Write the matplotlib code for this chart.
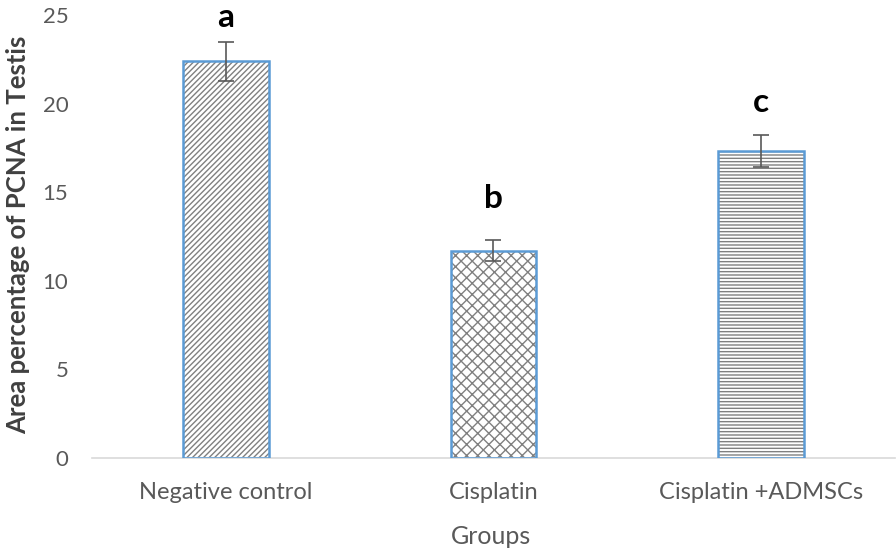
import matplotlib
matplotlib.use("Agg")
import matplotlib.pyplot as plt

categories = ["Negative control", "Cisplatin", "Cisplatin +ADMSCs"]
values = [22.4, 11.7, 17.3]
errors = [1.1, 0.6, 0.9]
letters = ["a", "b", "c"]
letter_y = [24.35, 14.1, 19.5]
hatches = ["//////", "xxx", "-----"]
yticks = [0, 5, 10, 15, 20, 25]

plt.rcParams['font.family'] = ['Lato', 'DejaVu Sans']
plt.rcParams['hatch.linewidth'] = 1.0

fig = plt.figure(figsize=(8.96, 5.55), dpi=100)
ax = fig.add_axes([92/896, (555-458)/555, (895-92)/896, (458-15)/555])

x = list(range(len(categories)))
w = 0.32
for i in x:
    ax.bar(i, values[i], width=w, color="white", edgecolor="#808080",
           hatch=hatches[i], linewidth=0, zorder=2)
    ax.bar(i, values[i], width=w, fill=False, edgecolor="#5B9BD5",
           linewidth=1.8, zorder=3)
ax.errorbar(x, values, yerr=errors, fmt="none", ecolor="#595959",
            elinewidth=1.2, capsize=6, capthick=1.2, zorder=4)
for i in x:
    ax.text(i, letter_y[i], letters[i], ha="center", va="baseline",
            fontsize=24, fontweight="bold", color="black", clip_on=False)

ax.set_xlim(-0.5, 2.5)
ax.set_ylim(0, 25)
ax.set_yticks(yticks)
ax.set_xticks(x)
ax.set_xticklabels(categories)
ax.tick_params(axis="x", length=0, labelsize=17, colors="#595959", pad=17)
ax.tick_params(axis="y", length=0, labelsize=16, colors="#595959", pad=17)
for s in ["top", "right", "left"]:
    ax.spines[s].set_visible(False)
ax.spines["bottom"].set_color("#d9d9d9")
ax.spines["bottom"].set_linewidth(1.2)
ax.set_xlabel("Groups", fontsize=18, color="#595959", labelpad=12)
ax.set_ylabel("Area percentage of PCNA in Testis", fontsize=18.5,
              fontweight="bold", color="#404040")
ax.yaxis.set_label_coords(-(92 - 18) / 803, 0.5 + (443/2 - (235 - 15)) / 443)
ax.xaxis.set_label_coords(0.5 + (491 - 493.5) / 803, -(537 - 458) / 443)
ax.xaxis.label.set_va("center")
ax.yaxis.label.set_va("center")

fig.savefig("out.png", dpi=100)
